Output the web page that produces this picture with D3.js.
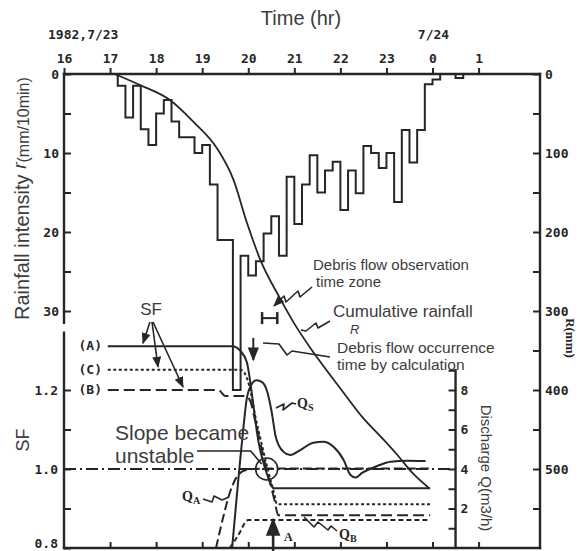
<!DOCTYPE html>
<html><head><meta charset="utf-8">
<script src="https://cdn.jsdelivr.net/npm/d3@7/dist/d3.min.js"></script>
<style>html,body{margin:0;padding:0;background:#fff}svg{display:block}</style>
</head><body><svg id="chart" width="584" height="551"></svg>
<script>
// ---------- data ----------
const hourTicks  = [16,17,18,19,20,21,22,23,24,25];
const hourLabels = ["16","17","18","19","20","21","22","23","0","1"];
const rainStartHour = 17 + 10/60;               // first 10-min bin 17:10
const rainIntensity = [1.5,5.5,1.5,7,9,
  5,3.3,6,8,8,10,
  9,14,21,21,40,23,
  25.5,23.7,20.2,18,23,13,
  19,14,10.3,15,12.2,11.1,
  17.2,12.2,15.1,9.1,10,11.9,
  10,16.2,7.1,11.2,7.1,1.3,
  0.7,0,0,0.5];
const cumHours = [17.1,17.65,18.3,18.8,19.32,19.68,19.97,20.26,20.69,21.0,21.41,22.0,22.5,22.86,23.22,23.58,23.92];
const cumRain  = [0,14,33,60,94,134,188,235,284,316,352,398,436,458,481,506,524];

const sfAHours  = [16.95,19.65,19.83,19.97,20.04,20.09,20.22,20.37,20.5,20.55,23.95];
const sfAValues = [1.311,1.311,1.299,1.27,1.223,1.18,1.07,1.0,0.96,0.951,0.951];
const sfCHours  = [16.95,19.83,19.93,20.02,20.15,20.3,20.43,20.57,20.62,23.95];
const sfCValues = [1.251,1.251,1.241,1.211,1.135,1.059,0.996,0.934,0.911,0.911];
const sfBHours  = [16.95,19.35,19.5,19.95,20.05,20.15,20.3,20.43,20.57,20.65,23.95];
const sfBValues = [1.2,1.2,1.185,1.185,1.17,1.122,1.047,0.984,0.921,0.883,0.883];

const qsHours  = [19.65,19.87,19.97,20.05,20.18,20.3,20.4,20.5,20.6,20.76,20.91,21.13,21.41,21.63,21.85,22.07,22.22,22.33,22.47,22.8,23.09,23.45,23.85];
const qsValues = [0,5.5,7.6,8.2,8.5,8.4,8.0,7.0,5.6,4.88,4.71,4.96,5.33,5.38,5.13,4.46,3.7,3.57,3.8,4.15,4.37,4.42,4.4];
const qaHours  = [19.3,19.45,19.6,19.75,19.95,20.3,23.95];
const qaValues = [0,1.5,2.8,3.6,3.95,4.02,4.02];
const qbHours  = [19.6,19.7,19.82,19.92,20.0,23.95];
const qbValues = [0,0.35,0.8,1.25,1.42,1.42];

const rainTicks = [0,5,10,15,20,25,30];
const sfTicks   = [0.8,0.9,1.0,1.1,1.2];
const rTicks    = [0,50,100,150,200,250,300,350,400,450,500,550];
const qTicks    = [1,2,3,4,5,6,7,8,9];

const obsZone = [20.3, 20.63];       // debris flow observation time zone
const calcTime = 20.11;              // occurrence time by calculation
const unstableTime = 20.4;           // SF crosses 1.0
const arrowATime = 20.54;

// ---------- layout ----------
const svg = d3.select('#chart');
const L=64, R=540, T=74, B=548;
const ink = '#262626', txt='#3c3c3c';
const mono = "'DejaVu Sans Mono', monospace";
const sans = "'Liberation Sans', Arial, sans-serif";
const serifB = "'Liberation Serif', serif";

const x     = d3.scaleLinear().domain([16, 26+20/60]).range([L,R]);
const yRain = d3.scaleLinear().domain([0,60]).range([T,B]);
const yR    = d3.scaleLinear().domain([0,600]).range([T,B]);
const ySF   = d3.scaleLinear().domain([0.8,2.0]).range([B,T]);
const yQ    = d3.scaleLinear().domain([0,24]).range([B,T]);
const xDis  = x(24.5);

const defs = svg.append('defs');
defs.append('marker').attr('id','ah').attr('viewBox','0 0 10 10').attr('refX',9).attr('refY',5)
  .attr('markerWidth',7).attr('markerHeight',7).attr('orient','auto-start-reverse')
  .append('path').attr('d','M0,1L10,5L0,9Z').attr('fill',ink);

function styleAxis(g){
  g.attr('font-family',mono).attr('font-size',13).attr('font-weight','bold');
  g.selectAll('.domain').remove();
  g.selectAll('line').attr('stroke',ink).attr('stroke-width',2);
  g.selectAll('text').attr('fill',ink);
}

// axes
svg.append('g').attr('transform',`translate(0,${T})`)
  .call(d3.axisTop(x).tickValues(hourTicks).tickFormat((d,i)=>hourLabels[i]).tickSize(6).tickPadding(5))
  .call(styleAxis);
svg.append('g').attr('transform',`translate(0,${B})`)
  .call(d3.axisBottom(x).tickValues(hourTicks.slice(1)).tickFormat('').tickSize(-6))
  .call(styleAxis);
svg.append('g').attr('transform',`translate(${L},0)`)
  .call(d3.axisLeft(yRain).tickValues(rainTicks).tickSize(-7).tickPadding(5).tickFormat(d=>d%10===0?d:''))
  .call(styleAxis);
const sfAxis = svg.append('g').attr('transform',`translate(${L},0)`)
  .call(d3.axisLeft(ySF).tickValues(sfTicks).tickSize(-7).tickPadding(6).tickFormat(d=>[0.8,1.0,1.2].includes(d)?d.toFixed(1):''))
  .call(styleAxis);
sfAxis.selectAll('text').filter(d=>d===0.8).attr('dy','-0.05em');
svg.append('g').attr('transform',`translate(${R},0)`)
  .call(d3.axisRight(yR).tickValues(rTicks).tickSize(-7).tickPadding(5).tickFormat(d=>d%100===0?d:''))
  .call(styleAxis);
svg.append('g').attr('transform',`translate(${xDis},0)`)
  .call(d3.axisRight(yQ).tickValues(qTicks).tickSize(-7).tickPadding(5).tickFormat(d=>d%2===0?d:''))
  .call(styleAxis);

// frame lines
const frame = [
  [L,T,R,T],[R,T,R,B],[L,B,R,B],
  [L,T,L,yRain(31.5)],[L,ySF(1.345),L,B],
  [xDis,yQ(0),xDis,yQ(9)]
];
svg.append('g').selectAll('line').data(frame).join('line')
  .attr('x1',d=>d[0]).attr('y1',d=>d[1]).attr('x2',d=>d[2]).attr('y2',d=>d[3])
  .attr('stroke',ink).attr('stroke-width',2.4).attr('stroke-linecap','square');

// hyetograph
let hp = `M${x(rainStartHour)},${yRain(0)}`;
rainIntensity.forEach((v,i)=>{ hp += `V${yRain(v)}H${x(rainStartHour+(i+1)/6)}`; });
hp += `V${yRain(0)}`;
svg.append('path').attr('d',hp).attr('fill','none').attr('stroke',ink).attr('stroke-width',2);

// cumulative rainfall
const cumLine = d3.line().x(d=>x(d[0])).y(d=>yR(d[1])).curve(d3.curveMonotoneX);
svg.append('path').attr('d',cumLine(cumHours.map((h,i)=>[h,cumRain[i]])))
  .attr('fill','none').attr('stroke',ink).attr('stroke-width',1.8);

// SF reference 1.0
svg.append('line').attr('x1',L).attr('x2',xDis).attr('y1',ySF(1)).attr('y2',ySF(1))
  .attr('stroke',ink).attr('stroke-width',1.8).attr('stroke-dasharray','12,4,2,4');

// SF curves
const sfLine = d3.line().x(d=>x(d[0])).y(d=>ySF(d[1])).curve(d3.curveMonotoneX);
const sfSeries = [
  {h:sfAHours,v:sfAValues,dash:null},
  {h:sfCHours,v:sfCValues,dash:'3,2.5'},
  {h:sfBHours,v:sfBValues,dash:'11,5'}
];
sfSeries.forEach(s=>{
  svg.append('path').attr('d',sfLine(s.h.map((h,i)=>[h,s.v[i]])))
    .attr('fill','none').attr('stroke',ink).attr('stroke-width',2).attr('stroke-dasharray',s.dash);
});

// discharge curves
const qLine = d3.line().x(d=>x(d[0])).y(d=>yQ(d[1])).curve(d3.curveMonotoneX);
[{h:qsHours,v:qsValues,dash:null},{h:qaHours,v:qaValues,dash:'9,4'},{h:qbHours,v:qbValues,dash:'5,3'}]
 .forEach(s=>{
  svg.append('path').attr('d',qLine(s.h.map((h,i)=>[h,s.v[i]])))
    .attr('fill','none').attr('stroke',ink).attr('stroke-width',2).attr('stroke-dasharray',s.dash);
 });

// ---------- annotations ----------
const ann = svg.append('g');
function text(xp,yp,str,opt={}){
  const t = ann.append('text').attr('x',xp).attr('y',yp).text(str)
    .attr('font-family',opt.ff||sans).attr('font-size',opt.fs||15).attr('fill',opt.fill||txt)
    .attr('text-anchor',opt.anchor||'start');
  if(opt.fw) t.attr('font-weight',opt.fw);
  if(opt.fst) t.attr('font-style',opt.fst);
  if(opt.tr) t.attr('transform',opt.tr);
  return t;
}
function poly(pts,opt={}){
  const p = ann.append('path').attr('d','M'+pts.map(p=>p.join(',')).join('L'))
    .attr('fill','none').attr('stroke',ink).attr('stroke-width',opt.w||1.6).attr('stroke-linejoin','round');
  if(opt.arrow) p.attr('marker-end','url(#ah)');
  return p;
}

text(301,25,'Time (hr)',{fs:20,anchor:'middle'});
text(48,39,'1982,7/23',{ff:mono,fs:13,fw:'bold',fill:ink});
text(x(24)+1,39,'7/24',{ff:mono,fs:13,fw:'bold',fill:ink,anchor:'middle'});

// left title
const lt = ann.append('text').attr('transform','translate(29,320) rotate(-90)')
  .attr('font-family',sans).attr('fill',txt);
lt.append('tspan').attr('font-size',20).text('Rainfall intensity ');
lt.append('tspan').attr('font-size',19).attr('font-style','italic').attr('dy',-3).text('r');
lt.append('tspan').attr('font-size',16).attr('dy',3).text('(mm/10min)');
text(0,0,'SF',{fs:18,anchor:'middle',tr:'translate(29,440) rotate(-90)'});
text(0,0,'R(mm)',{ff:serifB,fw:'bold',fs:13,fill:ink,anchor:'middle',tr:'translate(566,338) rotate(90)'});
text(0,0,'Discharge Q(m3/h)',{fs:15,anchor:'middle',tr:`translate(${xDis+25},468) rotate(90)`});

// SF legend
text(151,315,'SF',{fs:17,anchor:'middle'});
text(102,ySF(1.311)+4,'(A)',{ff:mono,fs:13,fw:'bold',fill:ink,anchor:'end'});
text(102,ySF(1.251)+4,'(C)',{ff:mono,fs:13,fw:'bold',fill:ink,anchor:'end'});
text(102,ySF(1.2)+4,'(B)',{ff:mono,fs:13,fw:'bold',fill:ink,anchor:'end'});
poly([[150,322],[143,ySF(1.311)-3]],{arrow:true});
poly([[152,322],[158,ySF(1.251)-3]],{arrow:true});
poly([[153,322],[183,ySF(1.2)-3]],{arrow:true});

// slope became unstable
text(115,440,'Slope became',{fs:21});
text(115,463,'unstable',{fs:21});
const cx = x(unstableTime), cy = ySF(1.0);
ann.append('circle').attr('cx',cx).attr('cy',cy).attr('r',11).attr('fill','none').attr('stroke',ink).attr('stroke-width',1.6);
poly([[197,451],[cx-16,451],[cx-5,cy-5]]);

// observation time zone marker
const oy = yR(309);
poly([[x(obsZone[0]),oy],[x(obsZone[1]),oy]],{w:2});
poly([[x(obsZone[0]),oy-6],[x(obsZone[0]),oy+6]],{w:2.5});
poly([[x(obsZone[1]),oy-6],[x(obsZone[1]),oy+6]],{w:2.5});
text(313,270,'Debris flow observation',{fs:15});
text(316,287,'time zone',{fs:15});
poly([[312,287],[300,297],[298,291],[286,302],[284,296],[274,306]],{arrow:true});

// cumulative rainfall label
text(333,317,'Cumulative rainfall',{fs:17});
text(350,334,'R',{fs:13,fst:'italic'});
poly([[330,321],[318,328],[316,323],[306,331],[301,330]]);

// occurrence time by calculation
poly([[x(calcTime),yR(334)],[x(calcTime),yR(362)]],{w:2,arrow:true});
text(337,353,'Debris flow occurrence',{fs:15.5});
text(337,370,'time by calculation',{fs:15.5});
poly([[263,343],[279,344],[287,355],[292,351],[330,357]]);

// discharge labels
function qlabel(xp,yp,sub){
  const t = ann.append('text').attr('x',xp).attr('y',yp).attr('font-family',serifB).attr('font-weight','bold')
    .attr('fill',ink).attr('font-size',14);
  t.append('tspan').text('Q');
  t.append('tspan').attr('font-size',10).attr('dy',3).text(sub);
}
qlabel(297,408,'S');
poly([[276,408],[284,404],[283,410],[292,403],[296,404]]);
qlabel(182,501,'A');
poly([[203,499],[212,502],[214,496],[222,500],[229,497]]);
qlabel(339,539,'B');
poly([[304,517],[314,527],[318,522],[328,530],[331,526],[337,531]]);

// arrow A
poly([[x(arrowATime),yQ(-0.3)],[x(arrowATime),yQ(1.45)]],{w:2.6,arrow:true});
text(284,541,'A',{ff:serifB,fw:'bold',fs:12,fill:ink});
</script></body></html>
